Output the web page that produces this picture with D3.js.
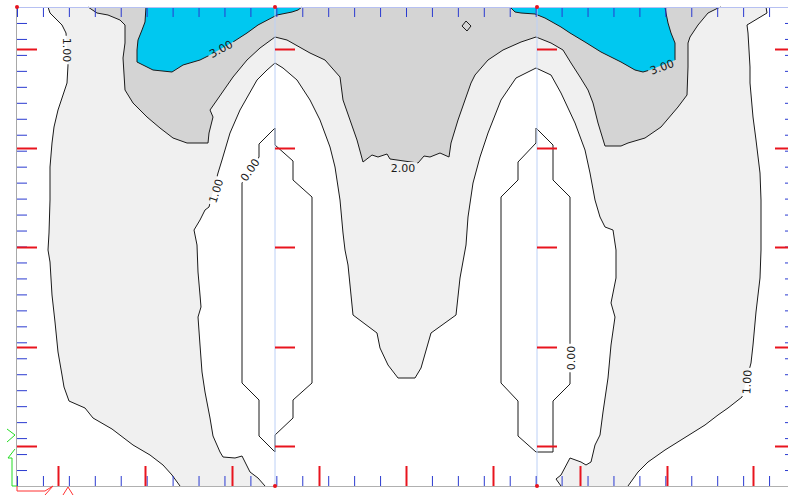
<!DOCTYPE html>
<html>
<head>
<meta charset="utf-8">
<script src="https://cdn.jsdelivr.net/npm/d3@7"></script>
<style>
  html, body { margin: 0; padding: 0; background: #fff; overflow: hidden; }
  svg { display: block; }
</style>
</head>
<body>
<div id="chart"></div>
<script>
// Model extent (plot units, origin bottom-left) and mesh
const modelWidth = 778;
const modelHeight = 479;
const meshDivisions = 30;

// Ruler (red) ticks and section lines, in model units
const rulerX = [41, 128, 215, 302, 389, 476, 563, 650, 736];
const rulerY = [40, 139, 239, 338, 437];
const sectionX = [258, 520];

// Contour levels and their band colours (< 1 is white)
const levels = [1, 2, 3];
const bandColors = ["#f0f0f0", "#d4d4d4", "#00c8f0"];

// Contour lines, [x, y] in model units
const contourLeft1 = [[31,479],[33,473],[45,461],[49,453],[51,421],[50,403],[45,388],[41,376],[37,359],[35,343],[33,319],[33,286],[32,253],[31,236],[33,224],[35,191],[38,164],[41,134],[45,111],[47,99],[52,85],[68,78],[76,68],[95,57],[116,41],[133,31],[146,21],[155,11],[163,0]];
const contourRight1 = [[749,479],[750,473],[730,461],[731,453],[733,419],[733,403],[736,369],[739,346],[743,313],[744,286],[744,236],[743,208],[739,174],[736,141],[734,123],[725,89],[711,78],[701,71],[688,61],[664,46],[648,36],[631,24],[621,14],[611,0]];
const contourInner1 = [[248,0],[241,8],[233,14],[225,30],[218,28],[206,29],[203,34],[196,50],[193,68],[188,94],[185,114],[183,141],[181,169],[184,179],[183,191],[181,214],[180,241],[177,256],[183,266],[188,276],[192,279],[201,313],[205,326],[213,353],[223,376],[240,406],[250,416],[258,423],[266,418],[280,406],[293,386],[303,366],[313,339],[318,319],[323,286],[326,253],[328,236],[331,221],[336,171],[360,153],[363,138],[371,121],[381,108],[398,108],[404,118],[414,153],[439,171],[443,208],[449,241],[451,269],[456,303],[463,329],[471,353],[484,386],[499,408],[519,418],[534,411],[544,393],[558,363],[568,336],[573,313],[578,286],[583,269],[588,259],[596,256],[599,236],[599,208],[594,183],[598,169],[594,141],[591,108],[586,74],[583,51],[578,41],[574,24],[569,21],[564,24],[553,28],[544,11],[539,7],[544,0]];
const contour2 = [[71,479],[80,473],[91,471],[103,466],[108,461],[108,443],[106,428],[108,396],[116,383],[130,369],[143,358],[156,348],[170,343],[191,343],[192,353],[196,369],[193,376],[200,386],[216,409],[230,426],[243,438],[258,449],[270,446],[293,433],[308,426],[323,409],[326,386],[333,366],[340,346],[346,324],[355,331],[361,329],[370,332],[373,327],[387,325],[401,323],[407,330],[413,329],[423,333],[432,329],[434,343],[441,366],[448,386],[454,403],[458,411],[471,426],[486,436],[504,444],[519,449],[534,443],[546,436],[554,423],[563,409],[571,396],[576,383],[581,363],[588,340],[604,340],[611,343],[628,348],[644,359],[661,379],[670,391],[671,419],[671,443],[673,449],[681,461],[691,473],[701,478],[704,479]];
const contourLeft3 = [[129,479],[128,464],[125,456],[121,446],[120,436],[120,424],[136,416],[155,414],[166,421],[183,426],[193,431],[216,444],[230,453],[241,461],[260,471],[275,474],[281,476],[285,479]];
const contourRight3 = [[493,479],[498,474],[504,473],[518,472],[528,468],[544,459],[553,453],[568,444],[584,434],[604,424],[618,416],[626,414],[633,416],[658,426],[658,443],[654,453],[651,463],[649,473],[648,479]];
const contourLeft0 = [[258,358],[258,341],[276,325],[276,306],[295,289],[295,103],[276,86],[276,68],[258,51],[258,34],[242,50],[242,86],[225,103],[225,303],[242,329],[242,342]];
const contourRight0 = [[519,358],[536,341],[536,306],[553,289],[553,102],[536,85],[536,34],[519,34],[501,50],[501,85],[484,103],[484,289],[501,306],[501,324],[519,343]];
const contourIsland = [[449,465],[454,460],[450,455],[445,460]];

// Contour labels: text, anchor (model units), rotation
const contourLabels = [
    { text: "1.00", at: [50, 436], angle: 90 },
    { text: "3.00", at: [204, 437], angle: -28 },
    { text: "1.00", at: [199, 295], angle: -72 },
    { text: "0.00", at: [233, 316], angle: -56 },
    { text: "2.00", at: [386, 318], angle: 0 },
    { text: "3.00", at: [645, 419], angle: -20 },
    { text: "0.00", at: [554, 128], angle: -90 },
    { text: "1.00", at: [730, 104], angle: -87 }
];

const W = 788, H = 495;
const svg = d3.select("#chart").append("svg")
    .attr("width", W)
    .attr("height", H);

const x = d3.scaleLinear().domain([0, modelWidth]).range([17, 795]);
const y = d3.scaleLinear().domain([0, modelHeight]).range([486, 7]);

const line = d3.line().x(d => x(d[0])).y(d => y(d[1]));
const closed = pts => line(pts) + "Z";

// Plot background (values below 1)
svg.append("rect")
    .attr("x", x(0)).attr("y", y(modelHeight))
    .attr("width", x(modelWidth) - x(0))
    .attr("height", y(0) - y(modelHeight))
    .attr("fill", "#fff");

// Filled bands, painted from the lowest level up
const band1 = [...contourRight1, ...contourInner1.slice().reverse(), ...contourLeft1.slice().reverse()];
const fills = svg.append("g").attr("class", "bands");
fills.append("path").attr("d", closed(band1)).attr("fill", bandColors[0]);
fills.append("path").attr("d", closed(contour2)).attr("fill", bandColors[1]);
fills.append("path").attr("d", closed(contourLeft3)).attr("fill", bandColors[2]);
fills.append("path").attr("d", closed(contourRight3)).attr("fill", bandColors[2]);

// Mask that opens gaps in the contour lines under the labels
const defs = svg.append("defs");
const mask = defs.append("mask").attr("id", "label-gaps")
    .attr("maskUnits", "userSpaceOnUse")
    .attr("x", 0).attr("y", 0).attr("width", W).attr("height", H);
mask.append("rect").attr("width", W).attr("height", H).attr("fill", "#fff");

// Contour lines
const lines = svg.append("g")
    .attr("class", "contour-lines")
    .attr("mask", "url(#label-gaps)")
    .attr("fill", "none")
    .attr("stroke", "#1a1a1a")
    .attr("stroke-width", 1)
    .attr("stroke-linejoin", "round");

[contourLeft1, contourRight1, contourInner1, contour2, contourLeft3, contourRight3]
    .forEach(c => lines.append("path").attr("d", line(c)));
[contourLeft0, contourRight0, contourIsland]
    .forEach(c => lines.append("path").attr("d", closed(c)));

const labels = svg.append("g").attr("class", "contour-labels")
    .selectAll("text")
    .data(contourLabels)
    .enter()
    .append("text")
    .attr("transform", d => `translate(${x(d.at[0])},${y(d.at[1])}) rotate(${d.angle})`)
    .attr("text-anchor", "middle")
    .attr("dy", "0.35em")
    .style("font-family", "'DejaVu Sans', sans-serif")
    .style("font-size", "11px")
    .style("fill", "#1a1a1a")
    .text(d => d.text);

labels.each(function(d) {
    const w = this.getComputedTextLength() + 4;
    mask.append("rect")
        .attr("transform", `translate(${x(d.at[0])},${y(d.at[1])}) rotate(${d.angle})`)
        .attr("x", -w / 2).attr("y", -6)
        .attr("width", w).attr("height", 12)
        .attr("fill", "#000");
});

// Section lines
svg.append("g").selectAll("line")
    .data(sectionX)
    .enter()
    .append("line")
    .attr("x1", d => x(d)).attr("x2", d => x(d))
    .attr("y1", y(modelHeight)).attr("y2", y(0))
    .attr("stroke", "#bcd0f6")
    .attr("stroke-width", 1);

// Mesh ticks (blue)
const meshX = d3.range(meshDivisions + 1).map(i => i * modelWidth / meshDivisions);
const meshY = d3.range(meshDivisions + 1).map(i => i * modelHeight / meshDivisions);

function styleTicks(g, color, width) {
    g.select(".domain").remove();
    g.selectAll(".tick line").attr("stroke", color).attr("stroke-width", width);
    g.selectAll(".tick text").remove();
}

svg.append("g").attr("transform", `translate(0,${y(0)})`)
    .call(d3.axisBottom(x).tickValues(meshX).tickSize(-10).tickFormat(""))
    .call(g => styleTicks(g, "#2a3ad0", 1));
svg.append("g").attr("transform", `translate(0,${y(modelHeight)})`)
    .call(d3.axisTop(x).tickValues(meshX).tickSize(-10).tickFormat(""))
    .call(g => styleTicks(g, "#2a3ad0", 1));
svg.append("g").attr("transform", `translate(${x(0)},0)`)
    .call(d3.axisLeft(y).tickValues(meshY).tickSize(-10).tickFormat(""))
    .call(g => styleTicks(g, "#2a3ad0", 1));
svg.append("g").attr("transform", `translate(${x(modelWidth)},0)`)
    .call(d3.axisRight(y).tickValues(meshY).tickSize(-10).tickFormat(""))
    .call(g => styleTicks(g, "#2a3ad0", 1));

// Ruler ticks (red)
svg.append("g").attr("transform", `translate(0,${y(0)})`)
    .call(d3.axisBottom(x).tickValues(rulerX).tickSize(-20).tickFormat(""))
    .call(g => styleTicks(g, "#e8141e", 2));
[0, modelWidth].forEach(v => {
    const ax = v === 0 ? d3.axisLeft(y) : d3.axisRight(y);
    svg.append("g").attr("transform", `translate(${x(v)},0)`)
        .call(ax.tickValues(rulerY).tickSize(-20).tickFormat(""))
        .call(g => styleTicks(g, "#e8141e", 2));
});
sectionX.forEach(v => {
    svg.append("g").attr("transform", `translate(${x(v)},0)`)
        .call(d3.axisLeft(y).tickValues(rulerY).tickSize(-20).tickFormat(""))
        .call(g => styleTicks(g, "#e8141e", 2));
});

// Frame
svg.append("line")
    .attr("x1", x(0)).attr("x2", x(modelWidth))
    .attr("y1", y(modelHeight) + 0.5).attr("y2", y(modelHeight) + 0.5)
    .attr("stroke", "#b6c0f2");
svg.append("line")
    .attr("x1", x(0)).attr("x2", x(modelWidth))
    .attr("y1", y(0) + 0.5).attr("y2", y(0) + 0.5)
    .attr("stroke", "#b0b0b0");
svg.append("line")
    .attr("x1", x(0) - 0.5).attr("x2", x(0) - 0.5)
    .attr("y1", y(modelHeight)).attr("y2", y(0))
    .attr("stroke", "#a8a8a8");

// Node markers on the section lines
const dots = [[0, modelHeight], ...sectionX.flatMap(v => [[v, modelHeight], [v, 0]])];
svg.append("g").selectAll("circle")
    .data(dots)
    .enter()
    .append("circle")
    .attr("cx", d => x(d[0])).attr("cy", d => y(d[1]))
    .attr("r", 2)
    .attr("fill", "#e8141e");

// Axis triad at the origin
const ox = x(0), oy = y(0);
const triad = svg.append("g").attr("fill", "none").attr("stroke-width", 1);
triad.append("path")
    .attr("d", `M${ox},${oy} H${ox - 5} V${oy - 28} H${ox - 9} L${ox - 2},${oy - 37}`)
    .attr("stroke", "#22dd22");
triad.append("path")
    .attr("d", `M${ox - 10},${oy - 57} L${ox - 2},${oy - 51} L${ox - 10},${oy - 44}`)
    .attr("stroke", "#22dd22");
triad.append("path")
    .attr("d", `M${ox},${oy} V${oy + 5} H${ox + 28} L${ox + 36},${oy} M${ox + 28},${oy + 9} L${ox + 36},${oy}`)
    .attr("stroke", "#ff3030");
triad.append("path")
    .attr("d", `M${ox + 46},${oy + 9} L${ox + 51},${oy + 1} L${ox + 56},${oy + 9}`)
    .attr("stroke", "#ff3030");
</script>
</body>
</html>
